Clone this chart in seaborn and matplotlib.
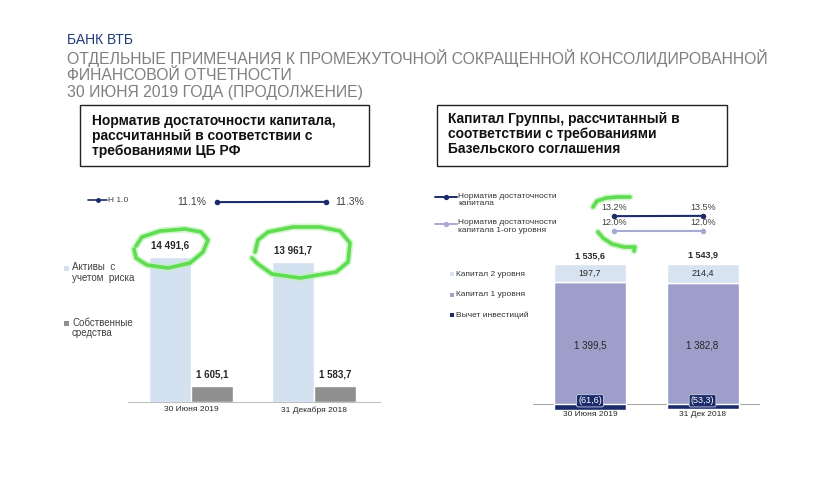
import matplotlib
matplotlib.use('Agg')

import matplotlib.pyplot as plt
from matplotlib.patches import Rectangle
from matplotlib.lines import Line2D
import pandas as pd
import seaborn as sns

# data
dates_left = ['30 Июня 2019', '31 Декабря 2018']
rwa = [14491.6, 13961.7]          # Активы с учетом риска
own_funds = [1605.1, 1583.7]      # Собственные средства
n10 = [11.1, 11.3]                # Н 1.0, %

dates_right = ['30 Июня 2019', '31 Дек 2018']
tier2 = [197.7, 214.4]
tier1 = [1399.5, 1382.8]
deduction = [-61.6, -53.3]
total = [1535.6, 1543.9]
car_total = [13.2, 13.5]          # Норматив достаточности капитала, %
car_tier1 = [12.0, 12.0]          # ... капитала 1-ого уровня, %

NAVY = '#1c2c6b'
LBLUE = '#d4e1f1'
GRAY = '#8f8f8f'
LAV = '#9d9ec9'
LLINE = '#a8aad2'
TXT = '#262626'

sns.set_theme(style='white')
plt.rcParams['font.family'] = ['Liberation Sans', 'DejaVu Sans']

W, H = 830, 493
fig = plt.figure(figsize=(W / 100, H / 100), dpi=100)


def px_axes(x0, y0, x1, y1, **kw):
    # axes from pixel box (top-left origin)
    return fig.add_axes([x0 / W, (H - y1) / H, (x1 - x0) / W, (y1 - y0) / H], **kw)


def ru(v):
    s = f'{abs(v):,.1f}'.replace(',', ' ').replace('.', ',')
    return s


# ---------------- left chart: bars ----------------
axL = px_axes(128, 230, 380, 402)
df_left = pd.DataFrame({
    'date': dates_left * 2,
    'value': rwa + own_funds,
    'series': ['rwa'] * 2 + ['own'] * 2,
})
sns.barplot(data=df_left, x='date', y='value', hue='series', palette=[LBLUE, GRAY],
            width=0.69, saturation=1, legend=False, ax=axL)
for c in axL.containers:
    axL.bar_label(c, labels=[ru(b.get_height()) for b in c], padding=5,
                  fontsize=7, fontweight='bold', color=TXT)
axL.set_ylim(0, 17200)
axL.set_xlim(-0.512, 1.537)
axL.set_xlabel('')
axL.set_ylabel('')
axL.set_yticks([])
axL.tick_params(axis='x', length=0, pad=3, labelsize=6, labelcolor=TXT)
for s in ['top', 'left', 'right']:
    axL.spines[s].set_visible(False)
axL.spines['bottom'].set_color('#bfbfbf')
axL.spines['bottom'].set_linewidth(0.8)
axL.patch.set_alpha(0)

# left chart: Н 1.0 line
axLL = px_axes(162.5, 192, 380.5, 212)
sns.lineplot(x=list(range(len(n10))), y=n10, color=NAVY, marker='o', markersize=4,
             markeredgewidth=0, linewidth=1.5, ax=axLL)
m = sum(n10) / len(n10)
axLL.set_ylim(m - 10, m + 10)
axLL.set_xlim(-0.5, 1.5)
axLL.axis('off')
axLL.annotate(f'{n10[0]:.1f}%', (0, n10[0]), xytext=(-8, 0), textcoords='offset points',
              ha='right', va='center', fontsize=7.5, color='#404040')
axLL.annotate(f'{n10[1]:.1f}%', (1, n10[1]), xytext=(6.5, 0), textcoords='offset points',
              ha='left', va='center', fontsize=7.5, color='#404040')

# ---------------- right chart: stacked bars ----------------
axR = px_axes(533, 240, 760, 410)
xr = list(range(len(dates_right)))
wr = 0.64
axR.axhline(0, color='#a6a6a6', lw=0.8, zorder=0)
t1_bottom = deduction
t2_bottom = [d + t for d, t in zip(deduction, tier1)]
b1 = axR.bar(xr, tier1, width=wr, bottom=t1_bottom, color=LAV, zorder=2)
b2 = axR.bar(xr, tier2, width=wr, bottom=t2_bottom, color='#d8e3f1', zorder=2)
b3 = axR.bar(xr, deduction, width=wr, color=NAVY, zorder=3)
axR.bar_label(b2, labels=[ru(v) for v in tier2], label_type='center', fontsize=6.5, color=TXT)
axR.bar_label(b1, labels=[ru(v) for v in tier1], label_type='center', fontsize=7, color=TXT)
for i, v in enumerate(total):
    axR.annotate(ru(v), (i, v), xytext=(0, 6), textcoords='offset points', ha='center',
                 va='center', fontsize=6.5, fontweight='bold', color=TXT)
for i, v in enumerate(deduction):
    axR.annotate(f'({ru(v)})', (i, 0), xytext=(0, 2.3), textcoords='offset points',
                 ha='center', va='center', fontsize=6.5, color='white', zorder=5,
                 bbox=dict(boxstyle='round,pad=0.18', fc=NAVY, ec='#c9cce3', lw=0.6))
axR.set_ylim(-66, 1804)
axR.set_xlim(-0.507, 1.511)
axR.set_xticks(xr)
axR.set_xticklabels(dates_right)
axR.set_yticks([])
axR.tick_params(axis='x', length=0, pad=0.5, labelsize=6, labelcolor=TXT)
for s in axR.spines.values():
    s.set_visible(False)
axR.patch.set_alpha(0)

# right chart: ratio lines
for vals, color, yc in [(car_total, NAVY, 216), (car_tier1, LLINE, 231)]:
    a = px_axes(569.5, yc - 10, 747.5, yc + 10)
    sns.lineplot(x=list(range(len(vals))), y=vals, color=color, marker='o', markersize=4,
                 markeredgewidth=0, linewidth=1.5, ax=a)
    mm = sum(vals) / len(vals)
    a.set_ylim(mm - 10, mm + 10)
    a.set_xlim(-0.5, 1.5)
    a.axis('off')
    for i, v in enumerate(vals):
        a.annotate(f'{v:.1f}%', (i, v), xytext=(0, 6), textcoords='offset points',
                   ha='center', va='center', fontsize=6.5, color='#404040')

# ---------------- overlay: header, boxes, legends ----------------
ov = fig.add_axes([0, 0, 1, 1], zorder=10)
ov.set_xlim(0, W)
ov.set_ylim(H, 0)
ov.axis('off')
ov.patch.set_alpha(0)

ov.text(67, 40, 'БАНК ВТБ', fontsize=10, color='#1f3a78', va='center')
for y, t in [(58, 'ОТДЕЛЬНЫЕ ПРИМЕЧАНИЯ К ПРОМЕЖУТОЧНОЙ СОКРАЩЕННОЙ КОНСОЛИДИРОВАННОЙ'),
             (75, 'ФИНАНСОВОЙ ОТЧЕТНОСТИ'),
             (92, '30 ИЮНЯ 2019 ГОДА (ПРОДОЛЖЕНИЕ)')]:
    ov.text(67, y, t, fontsize=11.3, color='#7f7f7f', va='center')

ov.add_patch(Rectangle((80, 105), 289, 61, fill=False, ec='#222222', lw=1))
ov.text(92, 136, 'Норматив достаточности капитала,\nрассчитанный в соответствии с\nтребованиями ЦБ РФ',
        fontsize=10, fontweight='bold', color='#111111', va='center', linespacing=1.1)
ov.add_patch(Rectangle((437, 105), 290, 61, fill=False, ec='#222222', lw=1))
ov.text(448, 134, 'Капитал Группы, рассчитанный в\nсоответствии с требованиями\nБазельского соглашения',
        fontsize=10, fontweight='bold', color='#111111', va='center', linespacing=1.1)

# left legends
ov.add_line(Line2D([88, 107], [200, 200], color=NAVY, lw=1.2))
ov.plot([98], [200], 'o', color=NAVY, ms=2.5)
ov.text(108, 200, 'Н 1.0', fontsize=6, color='#404040', va='center')
for y, col, t in [(268, LBLUE, 'Активы  с\nучетом  риска'), (323, GRAY, 'Собственные\nсредства')]:
    ov.add_patch(Rectangle((64, y - 2.5), 5, 5, color=col, lw=0))
    ov.text(72, y - 5.5, t, fontsize=7, color='#404040', va='top', linespacing=1.1)

# right legends
for y, col, t in [(197, NAVY, 'Норматив достаточности\nкапитала'),
                  (224, LLINE, 'Норматив достаточности\nкапитала 1-ого уровня')]:
    ov.add_line(Line2D([435, 457], [y, y], color=col, lw=1.4))
    ov.plot([446], [y], 'o', color=col, ms=2.8)
    ov.text(458, y - 4.5, t, fontsize=6, color='#333333', va='top', linespacing=1.15)
for y, col, t in [(274, '#d8e3f1', 'Капитал 2 уровня'), (295, LAV, 'Капитал 1 уровня'),
                  (315, NAVY, 'Вычет инвестиций')]:
    ov.add_patch(Rectangle((450, y - 2), 4, 4, color=col, lw=0))
    ov.text(456, y, t, fontsize=6, color='#333333', va='center')

# hand-drawn green marks
marks = [
    [(136, 246), (142, 237), (160, 231), (185, 229), (201, 232), (208, 240), (203, 252),
     (190, 263), (168, 268), (147, 265), (136, 258), (134, 249)],
    [(255, 252), (258, 240), (268, 232), (293, 227), (320, 227), (340, 231), (350, 243),
     (348, 262), (336, 272), (300, 278), (272, 274), (258, 264), (252, 258)],
    [(593, 207), (597, 201), (606, 198), (618, 197), (630, 197)],
    [(598, 232), (603, 238), (612, 244), (624, 247), (635, 247), (634, 251)],
]
for pts in marks:
    xs, ys = zip(*pts)
    ov.plot(xs, ys, color='#bdf3b4', lw=5, alpha=0.7, solid_capstyle='round', solid_joinstyle='round')
    ov.plot(xs, ys, color='#5fdc52', lw=2.6, solid_capstyle='round', solid_joinstyle='round')

fig.savefig('out.png', dpi=100)
